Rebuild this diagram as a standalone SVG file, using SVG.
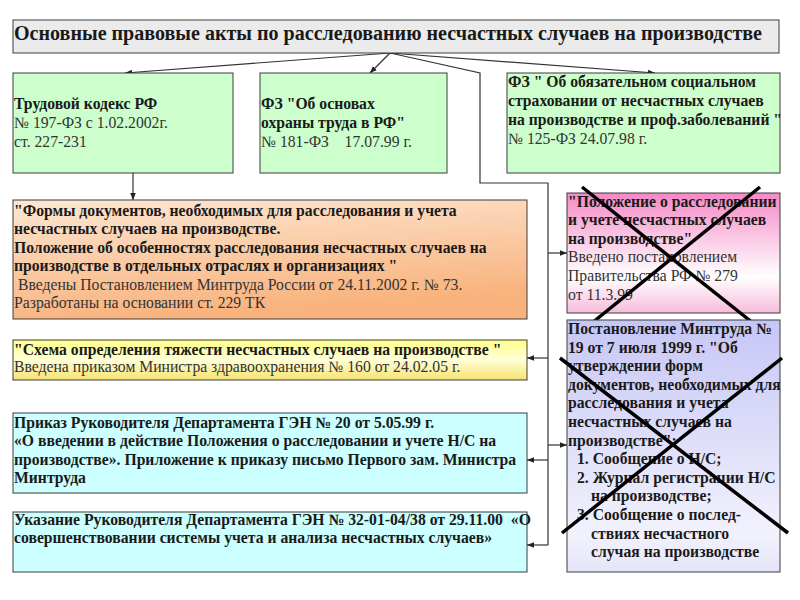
<svg xmlns="http://www.w3.org/2000/svg" width="800" height="600" viewBox="0 0 800 600" font-family="Liberation Serif">
<defs>
<marker id="ah" viewBox="0 0 10 10" refX="10" refY="5" markerWidth="7" markerHeight="7" orient="auto" markerUnits="userSpaceOnUse">
<path d="M0,1 L10,5 L0,9 z" fill="#222"/>
</marker>
<linearGradient id="gOr" x1="0" y1="0" x2="0.3" y2="1">
<stop offset="0" stop-color="#fde7d3"/>
<stop offset="1" stop-color="#f8b27c"/>
</linearGradient>
<linearGradient id="gYe" x1="0" y1="0" x2="0" y2="1">
<stop offset="0" stop-color="#ffff88"/>
<stop offset="0.5" stop-color="#ffffd8"/>
<stop offset="1" stop-color="#f6e270"/>
</linearGradient>
<linearGradient id="gPk" x1="0" y1="0" x2="0" y2="1">
<stop offset="0" stop-color="#f589c6"/>
<stop offset="0.7" stop-color="#ffffff"/>
<stop offset="1" stop-color="#f7bcdc"/>
</linearGradient>
<linearGradient id="gPu" x1="0" y1="0" x2="0" y2="1">
<stop offset="0" stop-color="#c6c6f6"/>
<stop offset="0.85" stop-color="#f2f2fd"/>
<stop offset="1" stop-color="#e4e4f8"/>
</linearGradient>
</defs>
<rect width="800" height="600" fill="#fff"/>

<g id="connectors" fill="none" stroke="#333" stroke-width="1.2">
<path d="M390,53 L125,73" marker-end="url(#ah)"/>
<path d="M390,53 L370,73" marker-end="url(#ah)"/>
<path d="M390,53 L655,73" marker-end="url(#ah)"/>
<path d="M390,53 L480,73 L480,183 L548,183 L548,545"/>
<path d="M133,173 L133,200" marker-end="url(#ah)"/>
<path d="M548,253 L567,253" marker-end="url(#ah)"/>
<path d="M548,358 L527,358" marker-end="url(#ah)"/>
<path d="M548,445 L567,445" marker-end="url(#ah)"/>
<path d="M548,460 L527,460" marker-end="url(#ah)"/>
<path d="M548,545 L527,545" marker-end="url(#ah)"/>
</g>

<g id="title" font-family="Liberation Serif" fill="#1a1a1a">
<rect x="13" y="20" width="766" height="33" fill="#ebebeb" stroke="#3c3c3c"/>
<text x="14" y="40" font-size="20" font-weight="bold" textLength="748" lengthAdjust="spacingAndGlyphs">Основные правовые акты по расследованию несчастных случаев на производстве</text>
</g>

<g id="tk" font-family="Liberation Serif" font-size="15.7" fill="#1a1a1a">
<rect x="13" y="73" width="220" height="100" fill="#ccffcc" stroke="#3c3c3c"/>
<text x="14" y="109" font-weight="bold">Трудовой кодекс РФ</text>
<text x="14" y="128" fill="#333">№ 197-ФЗ с 1.02.2002г.</text>
<text x="14" y="147" fill="#333">ст. 227-231</text>
</g>

<g id="fz181" font-family="Liberation Serif" font-size="15.7" fill="#1a1a1a">
<rect x="260" y="73" width="187" height="100" fill="#ccffcc" stroke="#3c3c3c"/>
<text x="261" y="109" font-weight="bold">ФЗ "Об основах</text>
<text x="261" y="128" font-weight="bold">охраны труда в РФ"</text>
<text x="261" y="147" fill="#333" xml:space="preserve">№ 181-ФЗ    17.07.99 г.</text>
</g>

<g id="fz125" font-family="Liberation Serif" font-size="15.7" fill="#1a1a1a">
<rect x="507" y="73" width="273" height="100" fill="#ccffcc" stroke="#3c3c3c"/>
<text x="508" y="87" font-weight="bold">ФЗ " Об обязательном социальном</text>
<text x="508" y="106" font-weight="bold">страховании от несчастных случаев</text>
<text x="508" y="125" font-weight="bold">на производстве и проф.заболеваний "</text>
<text x="508" y="144" fill="#333">№ 125-ФЗ 24.07.98 г.</text>
</g>

<g id="formy" font-family="Liberation Serif" font-size="15.7" fill="#1a1a1a">
<rect x="13" y="200" width="514" height="119" fill="url(#gOr)" stroke="#3c3c3c"/>
<text x="14" y="216" font-weight="bold">"Формы документов, необходимых для расследования и учета</text>
<text x="14" y="234" font-weight="bold">несчастных случаев на производстве.</text>
<text x="14" y="253" font-weight="bold">Положение об особенностях расследования несчастных случаев на</text>
<text x="14" y="271" font-weight="bold">производстве в отдельных отраслях и организациях "</text>
<text x="14" y="290" fill="#333" xml:space="preserve"> Введены Постановлением Минтруда России от 24.11.2002 г. № 73.</text>
<text x="14" y="308" fill="#333">Разработаны на основании ст.  229 ТК</text>
</g>

<g id="shema" font-family="Liberation Serif" font-size="15.7" fill="#1a1a1a">
<rect x="13" y="340" width="514" height="40" fill="url(#gYe)" stroke="#3c3c3c"/>
<text x="14" y="355" font-weight="bold">"Схема определения тяжести несчастных случаев на производстве "</text>
<text x="14" y="372" fill="#333">Введена приказом Министра здравоохранения № 160 от 24.02.05 г.</text>
</g>

<g id="prikaz20" font-family="Liberation Serif" font-size="15.7" font-weight="bold" fill="#1a1a1a">
<rect x="13" y="413" width="514" height="80" fill="#ccffff" stroke="#3c3c3c"/>
<text x="14" y="428">Приказ Руководителя Департамента ГЭН № 20 от 5.05.99 г.</text>
<text x="14" y="446">«О введении в действие Положения о расследовании и учете Н/С на</text>
<text x="14" y="465">производстве». Приложение к приказу письмо Первого зам. Министра</text>
<text x="14" y="483">Минтруда</text>
</g>

<g id="ukazanie" font-family="Liberation Serif" font-size="15.7" font-weight="bold" fill="#1a1a1a">
<rect x="13" y="512" width="514" height="60" fill="#ccffff" stroke="#3c3c3c"/>
<text x="14" y="525" xml:space="preserve">Указание Руководителя Департамента ГЭН № 32-01-04/38 от 29.11.00  «О</text>
<text x="14" y="543">совершенствовании системы учета и анализа несчастных случаев»</text>
</g>

<g id="polozhenie" font-family="Liberation Serif" font-size="15.7" fill="#1a1a1a">
<rect x="567" y="193" width="213" height="120" fill="url(#gPk)" stroke="#3c3c3c"/>
<text x="568" y="207" font-weight="bold">"Положение о расследовании</text>
<text x="568" y="225" font-weight="bold">и учете несчастных случаев</text>
<text x="568" y="244" font-weight="bold">на производстве"</text>
<text x="568" y="262" fill="#333">Введено постановлением</text>
<text x="568" y="281" fill="#333">Правительства РФ № 279</text>
<text x="568" y="300" fill="#333">от 11.3.99</text>
<line x1="582" y1="187" x2="758" y2="327" stroke="#000" stroke-width="3.5"/>
<line x1="760" y1="187" x2="587" y2="327" stroke="#000" stroke-width="3.5"/>
</g>

<g id="postanovlenie" font-family="Liberation Serif" font-size="15.7" font-weight="bold" fill="#1a1a1a">
<rect x="567" y="320" width="213" height="252" fill="url(#gPu)" stroke="#3c3c3c"/>
<text x="568" y="334">Постановление Минтруда №</text>
<text x="568" y="352.6">19 от 7 июля 1999 г. "Об</text>
<text x="568" y="371.2">утверждении форм</text>
<text x="568" y="389.8">документов, необходимых для</text>
<text x="568" y="408.4">расследования и учета</text>
<text x="568" y="427">несчастных случаев на</text>
<text x="568" y="445.6">производстве":</text>
<text x="577" y="464.2">1. Сообщение о Н/С;</text>
<text x="577" y="482.8">2. Журнал регистрации Н/С</text>
<text x="591" y="501.4">на производстве;</text>
<text x="577" y="520">3. Сообщение о послед-</text>
<text x="591" y="538.6">ствиях несчастного</text>
<text x="591" y="557.2">случая на производстве</text>
<line x1="560" y1="358" x2="788" y2="533" stroke="#000" stroke-width="3.5"/>
<line x1="782" y1="358" x2="562" y2="533" stroke="#000" stroke-width="3.5"/>
</g>
</svg>
